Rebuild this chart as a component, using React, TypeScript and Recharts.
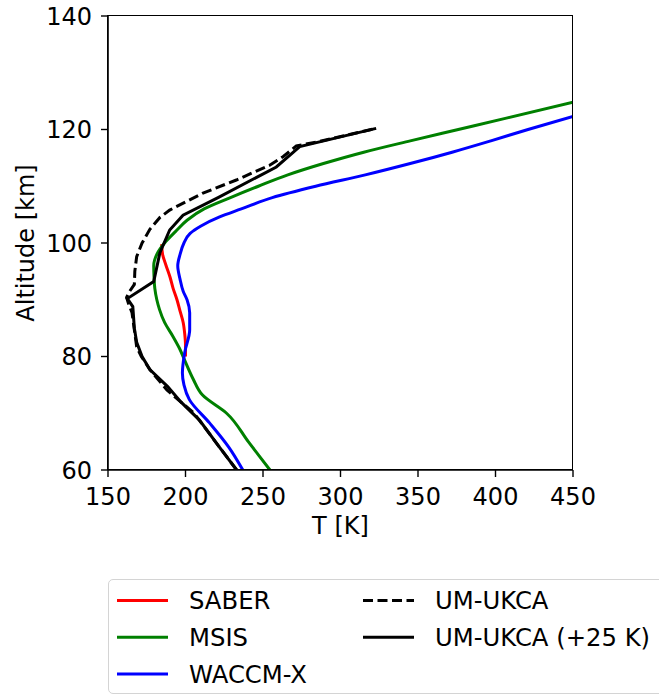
import React from 'react';
import { LineChart, Line, XAxis, YAxis } from 'recharts';

// temperature profiles, altitude in km, temperature in K
const saber = [
  { alt: 80, t: 200 }, { alt: 82, t: 200 }, { alt: 84, t: 199.5 }, { alt: 86, t: 198.5 },
  { alt: 88, t: 196.5 }, { alt: 90, t: 194.5 }, { alt: 92, t: 192 }, { alt: 94, t: 190 },
  { alt: 96, t: 187.5 }, { alt: 98, t: 185.2 }, { alt: 99.8, t: 184.6 },
];

const msis = [
  { alt: 60, t: 254.5 }, { alt: 65, t: 240.5 }, { alt: 70, t: 226.5 }, { alt: 73.2, t: 211 },
  { alt: 76, t: 205 }, { alt: 79, t: 200 }, { alt: 81.5, t: 196 }, { alt: 83.5, t: 192 },
  { alt: 86, t: 186.5 }, { alt: 88.3, t: 183.2 }, { alt: 90, t: 181.5 }, { alt: 92, t: 180.2 },
  { alt: 94, t: 179.7 }, { alt: 96, t: 179.5 }, { alt: 98, t: 181.5 }, { alt: 100, t: 186.5 },
  { alt: 102, t: 193.5 }, { alt: 104, t: 201 }, { alt: 106, t: 212 }, { alt: 108, t: 229 },
  { alt: 110, t: 247 }, { alt: 112, t: 266 }, { alt: 114, t: 289 }, { alt: 116, t: 315 },
  { alt: 118, t: 345 }, { alt: 120, t: 376 }, { alt: 122, t: 407 }, { alt: 124.8, t: 450 },
];

const waccmx = [
  { alt: 60, t: 237 }, { alt: 64, t: 228 }, { alt: 68.3, t: 215.5 }, { alt: 72.4, t: 202.5 },
  { alt: 75, t: 199 }, { alt: 77.1, t: 198 }, { alt: 80.7, t: 199.5 }, { alt: 84.7, t: 202.7 },
  { alt: 87.7, t: 202.7 }, { alt: 90, t: 201 }, { alt: 91.5, t: 198.5 }, { alt: 93.6, t: 196.5 },
  { alt: 96, t: 195 }, { alt: 98, t: 196.5 }, { alt: 100, t: 199 }, { alt: 101.7, t: 203 },
  { alt: 103, t: 210 }, { alt: 104.6, t: 222 }, { alt: 106, t: 236 }, { alt: 108, t: 256 },
  { alt: 110, t: 284 }, { alt: 112, t: 316 }, { alt: 114, t: 345 }, { alt: 116, t: 372 },
  { alt: 118, t: 397 }, { alt: 120, t: 421 }, { alt: 122.3, t: 450 },
];

const umukca = [
  { alt: 60, t: 233 }, { alt: 70, t: 205.5 }, { alt: 74.1, t: 188 }, { alt: 77.7, t: 177 },
  { alt: 80, t: 171.5 }, { alt: 81.7, t: 168.5 }, { alt: 84.7, t: 167 }, { alt: 87.7, t: 165.5 },
  { alt: 89.5, t: 163 }, { alt: 90.4, t: 162 }, { alt: 91.5, t: 164 }, { alt: 92.7, t: 167 },
  { alt: 95, t: 167.3 }, { alt: 97.6, t: 168.5 }, { alt: 100, t: 172 }, { alt: 102.4, t: 177 },
  { alt: 104.5, t: 183.5 }, { alt: 105.8, t: 189.8 }, { alt: 108.8, t: 211.3 }, { alt: 111.1, t: 232.8 },
  { alt: 113.7, t: 254.3 }, { alt: 115.2, t: 262.9 }, { alt: 117.1, t: 271.5 }, { alt: 117.9, t: 286.6 },
  { alt: 120.2, t: 323 },
];

const umukca25 = [
  { alt: 60, t: 233 }, { alt: 64, t: 222 }, { alt: 68.8, t: 209 }, { alt: 72, t: 197 },
  { alt: 74.7, t: 188.5 }, { alt: 77.7, t: 177 }, { alt: 80, t: 172 }, { alt: 82.5, t: 168.5 },
  { alt: 85, t: 167 }, { alt: 88.8, t: 166 }, { alt: 90.2, t: 162.5 }, { alt: 93.2, t: 179.5 },
  { alt: 98.3, t: 183.5 }, { alt: 102.3, t: 189.8 }, { alt: 104.9, t: 198.4 }, { alt: 108, t: 221 },
  { alt: 113.4, t: 258.6 }, { alt: 117, t: 273.7 }, { alt: 120.2, t: 323 },
];

const tTicks = [150, 200, 250, 300, 350, 400, 450];
const altTicks = [60, 80, 100, 120, 140];

const FONT = '"DejaVu Sans", sans-serif';
const tickStyle = { fill: '#000', fontSize: 24, fontFamily: FONT };

const legendItems = [
  { name: 'SABER', color: '#ff0000', dash: undefined, col: 0, row: 0 },
  { name: 'MSIS', color: '#008000', dash: undefined, col: 0, row: 1 },
  { name: 'WACCM-X', color: '#0000ff', dash: undefined, col: 0, row: 2 },
  { name: 'UM-UKCA', color: '#000', dash: '10 4.5', col: 1, row: 0 },
  { name: 'UM-UKCA (+25 K)', color: '#000', dash: undefined, col: 1, row: 1 },
];

const App = () => {
  return (
    <div style={{ position: 'absolute', left: 0, top: 0, width: 659, height: 695, overflow: 'hidden', background: '#fff', fontFamily: FONT }}>
      <LineChart
        layout="vertical"
        width={659}
        height={560}
        margin={{ top: 16, right: 86, bottom: 0, left: 0 }}
      >
        <XAxis
          type="number"
          domain={[150, 450]}
          ticks={tTicks}
          allowDataOverflow
          height={90}
          stroke="#000"
          strokeWidth={1.6}
          tickSize={7}
          tickMargin={11}
          tick={tickStyle}
          tickLine={{ stroke: '#000', strokeWidth: 1.4 }}
          label={{ value: 'T [K]', position: 'insideTop', offset: 47, style: { fill: '#000', fontSize: 24, fontFamily: FONT } }}
        />
        <YAxis
          type="number"
          dataKey="alt"
          domain={[60, 140]}
          ticks={altTicks}
          reversed
          allowDataOverflow
          width={108}
          stroke="#000"
          strokeWidth={1.6}
          tickSize={7}
          tickMargin={9}
          tick={tickStyle}
          tickLine={{ stroke: '#000', strokeWidth: 1.4 }}
          label={{ value: 'Altitude [km]', angle: -90, position: 'insideLeft', offset: 25, style: { textAnchor: 'middle', fill: '#000', fontSize: 24, fontFamily: FONT } }}
        />
        <Line data={saber} dataKey="t" type="monotone" stroke="#ff0000" strokeWidth={3} dot={false} isAnimationActive={false} />
        <Line data={msis} dataKey="t" type="monotone" stroke="#008000" strokeWidth={3} dot={false} isAnimationActive={false} />
        <Line data={waccmx} dataKey="t" type="monotone" stroke="#0000ff" strokeWidth={3} dot={false} isAnimationActive={false} />
        <Line data={umukca} dataKey="t" type="linear" stroke="#000" strokeWidth={3} strokeDasharray="10 4.5" dot={false} isAnimationActive={false} />
        <Line data={umukca25} dataKey="t" type="linear" stroke="#000" strokeWidth={3} dot={false} isAnimationActive={false} />
      </LineChart>
      {/* frame around the plot area (top and right spines) */}
      <div style={{ position: 'absolute', left: 107.2, top: 15.2, width: 465.8, height: 454.8, border: '1.6px solid #000', pointerEvents: 'none', boxSizing: 'border-box' }} />
      <div style={{ position: 'absolute', left: 108, top: 579, width: 580, height: 113, border: '1.5px solid #d4d4d4', borderRadius: 5, background: '#fff' }}>
        <svg width={580} height={113} style={{ display: 'block' }}>
          {legendItems.map((it) => {
            const x0 = it.col === 0 ? 8 : 254;
            const y = 20.5 + it.row * 36.7;
            return (
              <g key={it.name}>
                <line x1={x0} x2={x0 + 51} y1={y} y2={y} stroke={it.color} strokeWidth={3} strokeDasharray={it.dash} />
                <text x={x0 + 72} y={y + 8.7} fontSize={24.3} fontFamily={FONT} fill="#000">{it.name}</text>
              </g>
            );
          })}
        </svg>
      </div>
    </div>
  );
};

export default App;
